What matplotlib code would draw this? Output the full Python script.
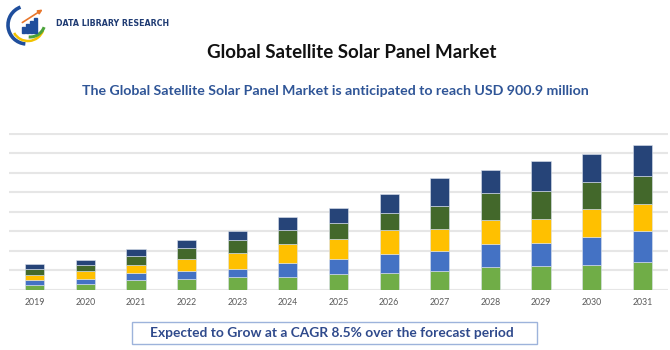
import numpy as np
import matplotlib.pyplot as plt
from matplotlib.patches import Arc, Rectangle, FancyArrowPatch

years = ['2019', '2020', '2021', '2022', '2023', '2024', '2025',
         '2026', '2027', '2028', '2029', '2030', '2031']
seg1 = [0.26, 0.33, 0.51, 0.57, 0.67, 0.69, 0.81, 0.89, 0.99, 1.18, 1.22, 1.30, 1.42]
seg2 = [0.27, 0.24, 0.36, 0.41, 0.43, 0.70, 0.78, 0.96, 1.01, 1.18, 1.21, 1.41, 1.60]
seg3 = [0.22, 0.41, 0.40, 0.61, 0.80, 0.97, 1.03, 1.22, 1.13, 1.24, 1.23, 1.42, 1.40]
seg4 = [0.31, 0.29, 0.49, 0.55, 0.67, 0.72, 0.79, 0.89, 1.19, 1.38, 1.41, 1.40, 1.40]
seg5 = [0.29, 0.29, 0.35, 0.43, 0.43, 0.67, 0.77, 0.96, 1.42, 1.19, 1.56, 1.42, 1.60]

colors = ['#70AD47', '#4472C4', '#FFC000', '#43682B', '#264478']

title = 'Global Satellite Solar Panel Market'
subtitle = 'The Global Satellite Solar Panel Market is anticipated to reach USD 900.9 million'
footer = 'Expected to Grow at a CAGR 8.5% over the forecast period'

W, H = 670, 350
fig = plt.figure(figsize=(W / 100, H / 100), dpi=100)

# main chart
ax = fig.add_axes([9 / W, (H - 290) / H, (668 - 9) / W, (290 - 133) / H])
x = np.arange(len(years))
bottom = np.zeros(len(years))
for vals, c in zip([seg1, seg2, seg3, seg4, seg5], colors):
    ax.bar(x, vals, width=0.38, bottom=bottom, color=c, edgecolor='#DCE3EE',
           linewidth=0.4, zorder=3)
    bottom += np.array(vals)

ax.set_xlim(-0.507, len(years) - 0.493)
ax.set_ylim(0, 8.05)
ax.set_yticks(range(9))
ax.set_yticklabels([])
ax.set_xticks(x)
ax.set_xticklabels(years, fontsize=6.3, color='#595959', family='Lato')
ax.tick_params(length=0, pad=6)
ax.grid(axis='y', color='#E6E6E6', linewidth=1.5, zorder=0)
for s in ax.spines.values():
    s.set_visible(False)

# overlay in pixel coordinates for texts, logo and box
ov = fig.add_axes([0, 0, 1, 1], zorder=-1)
ov.set_xlim(0, W)
ov.set_ylim(H, 0)
ov.axis('off')

ov.text(352, 52, title, fontsize=13.5, fontweight='bold', color='#111111',
        ha='center', va='center', family='Lato')
ov.text(335, 91, subtitle, fontsize=10.2, fontweight='bold', color='#2F5597',
        ha='center', va='center', family='Lato')

# footer box
ov.add_patch(Rectangle((132, 322), 405, 22, fill=False, edgecolor='#9DB3DB', linewidth=1))
ov.text(332, 333, footer, fontsize=9.9, fontweight='bold', color='#2F4A8C',
        ha='center', va='center', family='Lato')

# logo
ov.add_patch(Arc((27, 25), 38, 38, theta1=95, theta2=250, color='#1F4E9C', linewidth=2.6))
ov.add_patch(Arc((28, 25), 32, 32, theta1=20, theta2=150, color='#F2C200', linewidth=1.8))
ov.add_patch(Arc((30, 22), 30, 30, theta1=20, theta2=95, color='#4CA33B', linewidth=2.2))
for bx, bh in zip([22, 26, 30, 34], [6, 9, 12, 15]):
    ov.add_patch(Rectangle((bx, 33 - bh), 3, bh, color='#1F4E9C'))
ov.add_patch(FancyArrowPatch((20, 24), (45, 8), arrowstyle='-|>', mutation_scale=6,
                             color='#E8762B', linewidth=1.2))
ov.text(56, 23, 'DATA LIBRARY RESEARCH', fontsize=6.3, fontweight='bold',
        color='#1F3B73', ha='left', va='center', family='DejaVu Sans', fontstretch='condensed')

fig.savefig('out.png', dpi=100)
